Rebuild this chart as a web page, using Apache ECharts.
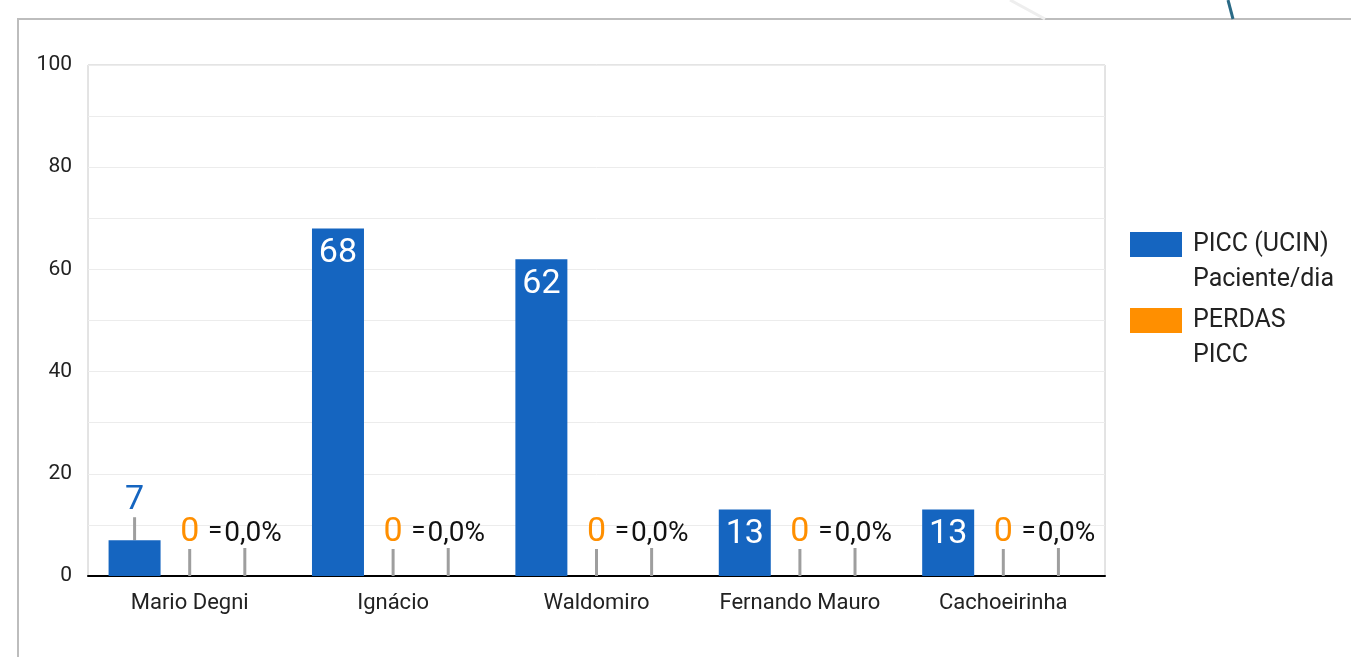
<!DOCTYPE html>
<html>
<head>
<meta charset="utf-8">
<script src="https://cdn.jsdelivr.net/npm/echarts@6/dist/echarts.min.js"></script>
<style>
  html, body { margin: 0; padding: 0; background: #fff; }
  #chart { width: 1351px; height: 657px; }
</style>
</head>
<body>
<div id="chart"></div>
<script>
const categories = ['Mario Degni', 'Ignácio', 'Waldomiro', 'Fernando Mauro', 'Cachoeirinha']
const picc = [7, 68, 62, 13, 13]
const perdas = [0, 0, 0, 0, 0]
const perdasPct = [0, 0, 0, 0, 0]
const pctLabels = ['0,0%', '0,0%', '0,0%', '0,0%', '0,0%']
const yTicks = [0, 20, 40, 60, 80, 100]

const BLUE = '#1565c0'
const ORANGE = '#ff8f00'
const FONT = 'Roboto'

// legend swatch sits next to the first text line; tiny corner dots stretch the box
const LEGEND_ICON = 'path://M0,5H52V30H0Z M0,0h0.1v0.1h-0.1Z M57.9,69.9h0.1v0.1h-0.1Z'

const chart = echarts.init(document.getElementById('chart'))

// small values get their label outside, above the bar
const piccData = picc.map(function (v) {
  if (v < 10) {
    return { value: v, label: { position: 'top', color: BLUE } }
  }
  return { value: v }
})

const option = {
  backgroundColor: '#fff',
  textStyle: { fontFamily: FONT },
  graphic: [
    {
      type: 'rect',
      shape: { x: 18, y: 19, width: 1400, height: 700 },
      style: { fill: 'none', stroke: '#bdbdbd', lineWidth: 2 },
      z: -10
    },
    {
      type: 'line',
      shape: { x1: 1010, y1: 0, x2: 1045, y2: 19 },
      style: { stroke: '#eeeeee', lineWidth: 3 }
    },
    {
      type: 'line',
      shape: { x1: 1228, y1: 0, x2: 1233, y2: 19 },
      style: { stroke: '#2a6a86', lineWidth: 3 }
    }
  ],
  legend: {
    orient: 'vertical',
    left: 1130,
    top: 227,
    padding: 0,
    itemWidth: 58,
    itemHeight: 70,
    itemGap: 6,
    icon: LEGEND_ICON,
    data: ['PICC (UCIN)\nPaciente/dia', 'PERDAS\nPICC'],
    textStyle: {
      fontSize: 25,
      color: '#222',
      lineHeight: 35,
      fontFamily: FONT
    }
  },
  grid: {
    left: 88,
    top: 65,
    right: 246,
    bottom: 81,
    show: true,
    borderColor: '#c8c8c8',
    borderWidth: 1
  },
  xAxis: {
    type: 'category',
    data: categories,
    axisLine: { lineStyle: { color: '#000', width: 2 } },
    axisTick: { show: false },
    axisLabel: { interval: 0, fontSize: 22, color: '#222', margin: 16, fontFamily: FONT }
  },
  yAxis: {
    type: 'value',
    min: 0,
    max: 100,
    interval: 10,
    axisLine: { show: false },
    axisTick: { show: false },
    axisLabel: {
      fontSize: 21,
      color: '#222',
      margin: 16,
      fontFamily: FONT,
      formatter: function (v) { return yTicks.indexOf(v) >= 0 ? String(v) : '' }
    },
    splitLine: { lineStyle: { color: '#ececec', width: 1 } }
  },
  series: [
    {
      name: 'PICC (UCIN)\nPaciente/dia',
      type: 'bar',
      data: piccData,
      barWidth: 52,
      barGap: '6%',
      itemStyle: { color: BLUE },
      label: {
        show: true,
        position: 'insideTop',
        distance: 8,
        color: '#fff',
        fontSize: 34,
        fontFamily: FONT
      },
      labelLayout: function (params) {
        return picc[params.dataIndex] < 10 ? { dy: -15 } : {}
      },
      labelLine: { show: true, lineStyle: { color: '#9e9e9e', width: 3 } }
    },
    {
      name: 'PERDAS\nPICC',
      type: 'bar',
      data: perdas,
      barWidth: 52,
      itemStyle: { color: ORANGE },
      label: {
        show: true,
        position: 'top',
        distance: 5,
        color: ORANGE,
        fontSize: 34,
        fontFamily: FONT
      },
      labelLayout: { dy: -22 },
      labelLine: { show: true, lineStyle: { color: '#9e9e9e', width: 3 } }
    },
    {
      name: 'pct',
      type: 'bar',
      data: perdasPct,
      barWidth: 52,
      itemStyle: { color: '#777' },
      label: {
        show: true,
        position: 'top',
        distance: 8,
        color: '#111',
        fontSize: 28,
        fontFamily: FONT,
        formatter: function (p) { return '{eq|=}' + pctLabels[p.dataIndex] },
        rich: {
          eq: { fontSize: 26, color: '#111', padding: [0, 2, 6, 0], fontFamily: FONT }
        }
      },
      labelLayout: { dy: -18 },
      labelLine: { show: true, lineStyle: { color: '#9e9e9e', width: 3 } }
    }
  ]
}

chart.setOption(option)
</script>
</body>
</html>
